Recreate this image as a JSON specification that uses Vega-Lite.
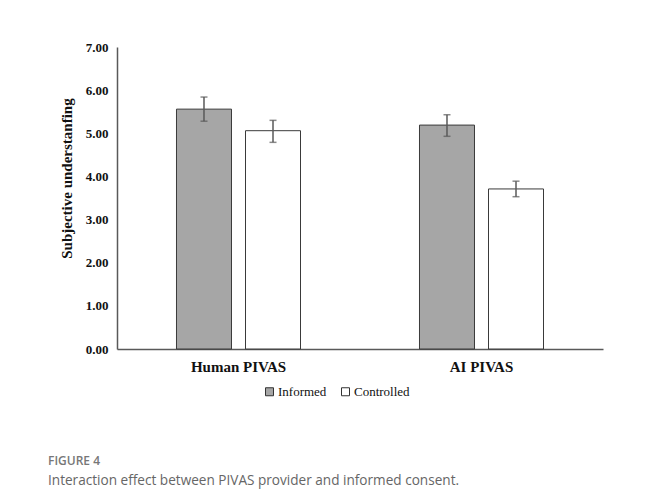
{
  "$schema": "https://vega.github.io/schema/vega-lite/v6.json",
  "width": 486,
  "height": 302,
  "autosize": {"type": "none"},
  "padding": {"left": 117, "top": 47, "right": 52, "bottom": 141},
  "background": "white",
  "data": {
    "values": [
      {"provider": "Human PIVAS", "consent": "Informed", "mean": 5.56, "lo": 5.28, "hi": 5.84},
      {"provider": "Human PIVAS", "consent": "Controlled", "mean": 5.06, "lo": 4.79, "hi": 5.30},
      {"provider": "AI PIVAS", "consent": "Informed", "mean": 5.19, "lo": 4.93, "hi": 5.43},
      {"provider": "AI PIVAS", "consent": "Controlled", "mean": 3.71, "lo": 3.53, "hi": 3.89}
    ]
  },
  "title": {
    "text": "FIGURE 4",
    "subtitle": "Interaction effect between PIVAS provider and informed consent.",
    "orient": "bottom",
    "anchor": "start",
    "frame": "group",
    "dx": -69,
    "offset": 57,
    "font": "Open Sans",
    "fontSize": 12,
    "fontWeight": 600,
    "color": "#777777",
    "subtitleFont": "Open Sans",
    "subtitleFontSize": 13.6,
    "subtitleColor": "#666666",
    "subtitlePadding": 6
  },
  "encoding": {
    "x": {
      "field": "provider",
      "type": "nominal",
      "sort": ["Human PIVAS", "AI PIVAS"],
      "scale": {"paddingInner": 0, "paddingOuter": 0},
      "axis": {
        "title": null,
        "labelAngle": 0,
        "ticks": false,
        "labelPadding": 10,
        "labelFont": "Liberation Serif",
        "labelFontSize": 15,
        "labelFontWeight": "bold",
        "labelColor": "#111",
        "domainColor": "#595959",
        "domainWidth": 1.5
      }
    },
    "xOffset": {
      "field": "consent",
      "type": "nominal",
      "sort": ["Informed", "Controlled"],
      "scale": {"paddingInner": 0.203, "paddingOuter": 0.862}
    }
  },
  "layer": [
    {
      "mark": {"type": "bar", "stroke": "#3a3a3a", "strokeWidth": 1},
      "encoding": {
        "y": {
          "field": "mean",
          "type": "quantitative",
          "scale": {"domain": [0, 7]},
          "axis": {
            "title": "Subjective understanfing",
            "titleFont": "Liberation Serif",
            "titleFontSize": 15,
            "titleFontWeight": "bold",
            "titleColor": "#111",
            "titlePadding": 11,
            "titleY": 131,
            "values": [0, 1, 2, 3, 4, 5, 6, 7],
            "format": ".2f",
            "grid": false,
            "ticks": false,
            "labelPadding": 9,
            "labelFont": "Liberation Serif",
            "labelFontSize": 13,
            "labelFontWeight": "bold",
            "labelColor": "#111",
            "domainColor": "#595959",
            "domainWidth": 1.5
          }
        },
        "fill": {
          "field": "consent",
          "type": "nominal",
          "sort": ["Informed", "Controlled"],
          "scale": {"domain": ["Informed", "Controlled"], "range": ["#a6a6a6", "#ffffff"]},
          "legend": {
            "title": null,
            "orient": "none",
            "direction": "horizontal",
            "legendX": 146,
            "legendY": 338,
            "symbolType": "square",
            "symbolSize": 64,
            "symbolStrokeColor": "#333333",
            "symbolStrokeWidth": 1,
            "labelFont": "Liberation Serif",
            "labelFontSize": 13,
            "labelColor": "#111",
            "labelOffset": 2,
            "columnPadding": 12
          }
        }
      }
    },
    {
      "mark": {"type": "rule", "color": "#595959", "strokeWidth": 1.5},
      "encoding": {
        "y": {"field": "lo", "type": "quantitative"},
        "y2": {"field": "hi"}
      }
    },
    {
      "mark": {"type": "tick", "color": "#595959", "thickness": 1.5, "size": 7, "orient": "horizontal"},
      "encoding": {"y": {"field": "lo", "type": "quantitative"}}
    },
    {
      "mark": {"type": "tick", "color": "#595959", "thickness": 1.5, "size": 7, "orient": "horizontal"},
      "encoding": {"y": {"field": "hi", "type": "quantitative"}}
    }
  ],
  "config": {
    "view": {"stroke": null},
    "font": "Liberation Serif"
  }
}
